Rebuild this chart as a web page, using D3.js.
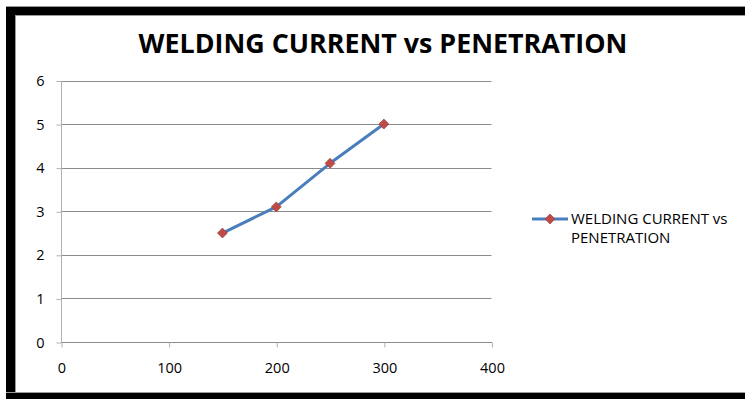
<!DOCTYPE html>
<html><head><meta charset="utf-8">
<script src="https://cdn.jsdelivr.net/npm/d3@7"></script>
<style>
html,body{margin:0;padding:0;background:#fff;}
svg{display:block;}
text{font-family:"Open Sans","Liberation Sans",sans-serif;}
</style></head>
<body>
<svg id="chart" width="745" height="399"></svg>
<script>
const chartTitle = "WELDING CURRENT vs PENETRATION";
const seriesName = ["WELDING CURRENT vs", "PENETRATION"];
const current = [150, 200, 250, 300];
const penetration = [2.5, 3.1, 4.1, 5.0];
const xTicks = [0, 100, 200, 300, 400];
const yTicks = [0, 1, 2, 3, 4, 5, 6];

const svg = d3.select("#chart");
const W = 745, H = 399;

// frame
svg.append("rect").attr("x",0).attr("y",0).attr("width",W).attr("height",H).attr("fill","#fff");
svg.append("rect").attr("x",6).attr("y",6).attr("width",W-6).attr("height",1).attr("fill","#9a9a9a");
svg.append("rect").attr("x",6).attr("y",7).attr("width",W-6).attr("height",8).attr("fill","#000");
svg.append("rect").attr("x",6).attr("y",7).attr("width",9).attr("height",H-7).attr("fill","#000");
svg.append("rect").attr("x",15).attr("y",15).attr("width",1).attr("height",377).attr("fill","#9a9a9a");
svg.append("rect").attr("x",15).attr("y",15).attr("width",W-15).attr("height",1).attr("fill","#9a9a9a");
svg.append("rect").attr("x",6).attr("y",392).attr("width",W-6).attr("height",1).attr("fill","#9a9a9a");
svg.append("rect").attr("x",6).attr("y",393).attr("width",W-6).attr("height",6).attr("fill","#000");

const x = d3.scaleLinear().domain([0,400]).range([61,491.5]);
const y = d3.scaleLinear().domain([0,6]).range([342,80.5]);

// gridlines
svg.append("g").selectAll("line").data(yTicks.filter(d=>d>0)).join("line")
  .attr("x1",x(0)).attr("x2",x(400))
  .attr("y1",d=>Math.round(y(d))+0.5).attr("y2",d=>Math.round(y(d))+0.5)
  .attr("stroke","#8c8c8c").attr("stroke-width",1);

// y axis
const yAxis = d3.axisLeft(y).tickValues(yTicks).tickSize(5).tickPadding(12).tickFormat(d3.format("d"));
const gy = svg.append("g").attr("transform",`translate(${x(0)+0.5},0.5)`).call(yAxis);
gy.attr("font-size",14.5).attr("font-family",null);
gy.select(".domain").attr("stroke","#b0b0b0").attr("d",`M0,${y(6)}V${y(0)}`);
gy.selectAll(".tick line").attr("stroke","#b0b0b0");
gy.selectAll(".tick text").attr("fill","#000");

// x axis
const xAxis = d3.axisBottom(x).tickValues(xTicks).tickSize(5).tickPadding(15).tickFormat(d3.format("d"));
const gx = svg.append("g").attr("transform",`translate(0.5,${Math.round(y(0))+0.5})`).call(xAxis);
gx.attr("font-size",14.5).attr("font-family",null);
gx.select(".domain").attr("stroke","#8c8c8c").attr("d",`M${x(0)},0H${x(400)}`);
gx.selectAll(".tick line").attr("stroke","#b0b0b0");
gx.selectAll(".tick text").attr("fill","#000");

// line
const data = current.map((c,i)=>({x:c,y:penetration[i]}));
svg.append("path").datum(data)
  .attr("fill","none").attr("stroke","#4a7ebb").attr("stroke-width",3)
  .attr("stroke-linejoin","round")
  .attr("d",d3.line().x(d=>x(d.x)).y(d=>y(d.y)));

svg.append("g").selectAll("path").data(data).join("path")
  .attr("transform",d=>`translate(${x(d.x)},${y(d.y)}) rotate(45)`)
  .attr("d",d3.symbol().type(d3.symbolSquare).size(50))
  .attr("fill","#be4b48").attr("stroke","#9a3d3a").attr("stroke-width",0.6);

// title
const t = svg.append("text").attr("x",383).attr("y",53).attr("text-anchor","middle")
  .attr("font-size",22).attr("font-weight","bold").attr("fill","#000").text(chartTitle);
const tw = t.node().getComputedTextLength();
t.attr("font-size", 22*489/tw);

// legend
const lg = svg.append("g");
lg.append("line").attr("x1",532).attr("x2",568).attr("y1",219).attr("y2",219)
  .attr("stroke","#4a7ebb").attr("stroke-width",3);
lg.append("path").attr("transform","translate(550,219) rotate(45)")
  .attr("d",d3.symbol().type(d3.symbolSquare).size(50))
  .attr("fill","#be4b48").attr("stroke","#9a3d3a").attr("stroke-width",0.6);
lg.selectAll("text").data(seriesName).join("text")
  .attr("x",571).attr("y",(d,i)=>224+i*19)
  .attr("font-size",15).attr("fill","#000").text(d=>d);
</script>
</body></html>
